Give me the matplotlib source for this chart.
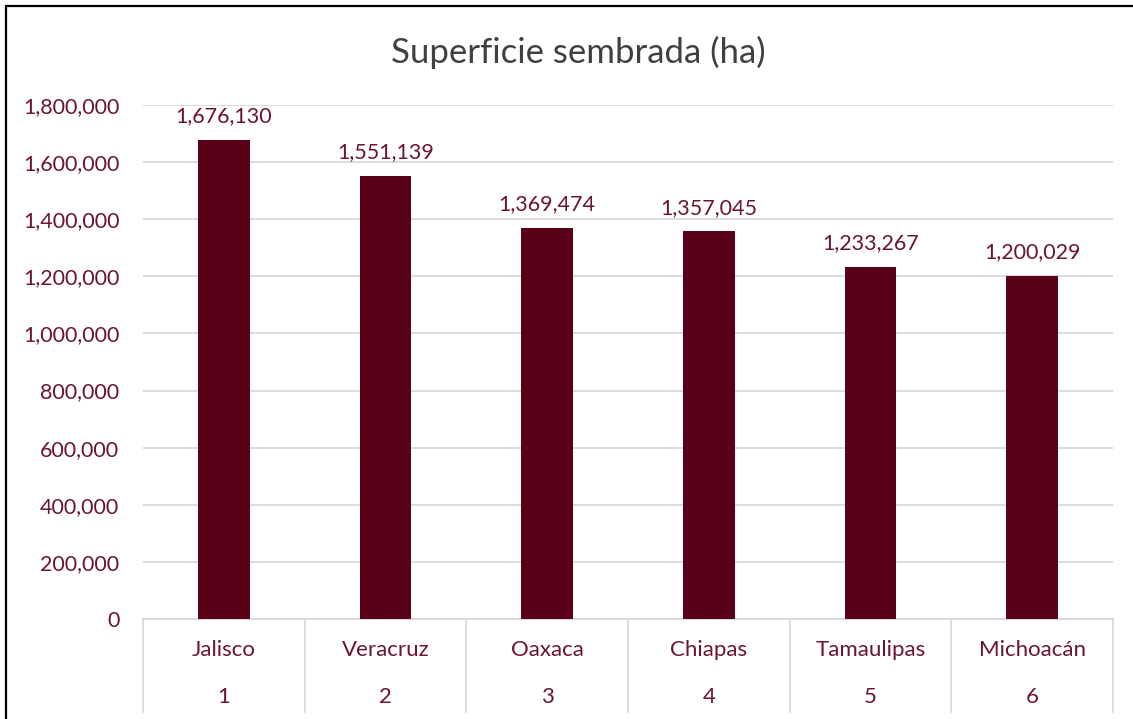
import numpy as np
import matplotlib
matplotlib.use("Agg")
import matplotlib.pyplot as plt
from matplotlib.patches import Rectangle
from matplotlib.ticker import FuncFormatter

# datos
estados = ["Jalisco", "Veracruz", "Oaxaca", "Chiapas", "Tamaulipas", "Michoacán"]
rango = ["1", "2", "3", "4", "5", "6"]
superficie = [1676130, 1551139, 1369474, 1357045, 1233267, 1200029]
yticks = [0, 200000, 400000, 600000, 800000, 1000000, 1200000, 1400000, 1600000, 1800000]

plt.rcParams['font.family'] = ['Lato', 'DejaVu Sans']

W, H = 1133, 719
color_bar = '#5B0019'
color_txt = '#6B1530'
color_grid = '#D9D9D9'

fig = plt.figure(figsize=(W / 100, H / 100), dpi=100)

# borde del grafico (solo izquierda y arriba visibles)
fig.patches.append(Rectangle((6 / W, -0.1), 1.2, 1 - 6 / H + 0.1, transform=fig.transFigure,
                             fill=False, edgecolor='black', linewidth=1.6))

x0, x1, y0, ytop = 143, 1113, 619, 105
ax = fig.add_axes([x0 / W, (H - y0) / H, (x1 - x0) / W, (y0 - ytop) / H])

x = np.arange(len(estados))
ax.bar(x, superficie, width=0.32, color=color_bar, zorder=3)

for xi, v in zip(x, superficie):
    ax.annotate(f"{v:,}", (xi, v), xytext=(0, 10), textcoords='offset points',
                ha='center', va='bottom', fontsize=15.5, color=color_txt)

ax.set_xlim(-0.5, len(estados) - 0.5)
ax.set_ylim(0, 1800000)
ax.set_yticks(yticks)
ax.yaxis.set_major_formatter(FuncFormatter(lambda v, p: f"{int(v):,}"))
ax.tick_params(axis='y', length=0, labelsize=15.5, labelcolor=color_txt, pad=17)
ax.set_xticks([])
ax.grid(axis='y', color=color_grid, linewidth=1.3, zorder=0)
for s in ['top', 'right', 'left']:
    ax.spines[s].set_visible(False)
ax.spines['bottom'].set_color(color_grid)
ax.spines['bottom'].set_linewidth(1.3)

# eje de categorias en dos niveles
trans = ax.get_xaxis_transform()
y_bottom = -(712 - y0) / (y0 - ytop)
for b in np.arange(-0.5, len(estados), 1.0):
    ax.plot([b, b], [0, y_bottom], transform=trans, color=color_grid,
            linewidth=1.3, clip_on=False)
for xi, e, r in zip(x, estados, rango):
    ax.text(xi, -(650 - y0) / (y0 - ytop), e, transform=trans, ha='center', va='center',
            fontsize=16, color=color_txt)
    ax.text(xi, -(697 - y0) / (y0 - ytop), r, transform=trans, ha='center', va='center',
            fontsize=16, color=color_txt)

fig.text((390 + 766) / 2 / W, 1 - 52 / H, "Superficie sembrada (ha)", ha='center', va='center',
         fontsize=25, color='#404040')

fig.savefig("out.png", dpi=100)
